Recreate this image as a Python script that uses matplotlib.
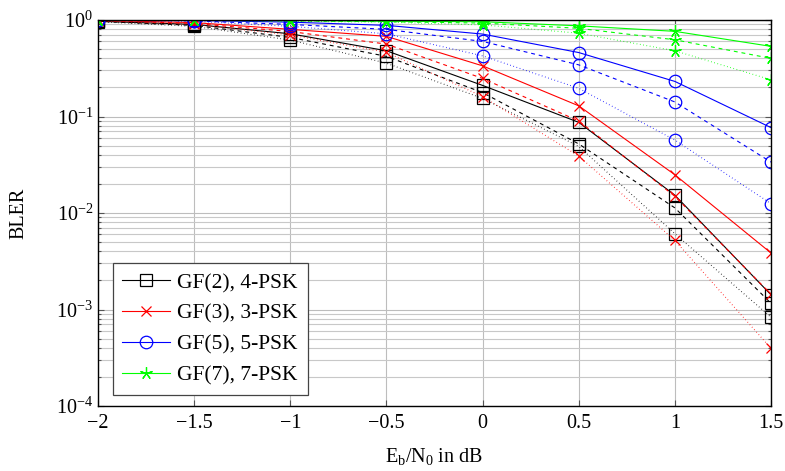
import matplotlib
matplotlib.use("Agg")
import matplotlib.pyplot as plt
import numpy as np
from matplotlib.ticker import LogLocator, NullFormatter

plt.rcParams['font.family'] = ['Liberation Serif', 'DejaVu Serif']
plt.rcParams['mathtext.fontset'] = 'custom'
plt.rcParams['mathtext.rm'] = 'Liberation Serif'
plt.rcParams['mathtext.it'] = 'Liberation Serif:italic'

# Eb/N0 in dB
snr = [-2, -1.5, -1, -0.5, 0, 0.5, 1, 1.5]

# GF(2), 4-PSK
gf2_solid = [0.97, 0.90, 0.72, 0.48, 0.21, 0.087, 0.0153, 0.00142]
gf2_dashed = [0.97, 0.88, 0.66, 0.42, 0.177, 0.052, 0.0113, 0.00116]
gf2_dotted = [0.96, 0.86, 0.62, 0.357, 0.154, 0.049, 0.0061, 0.00083]

# GF(3), 3-PSK
gf3_solid = [0.99, 0.94, 0.80, 0.677, 0.335, 0.129, 0.0249, 0.00385]
gf3_dashed = [0.99, 0.92, 0.76, 0.563, 0.248, 0.0898, 0.0149, 0.00144]
gf3_dotted = [0.98, 0.90, 0.70, 0.462, 0.161, 0.0389, 0.0052, 0.000396]

# GF(5), 5-PSK
gf5_solid = [1.0, 0.99, 0.95, 0.88, 0.715, 0.46, 0.231, 0.0767]
gf5_dashed = [1.0, 0.98, 0.90, 0.80, 0.60, 0.343, 0.1415, 0.0337]
gf5_dotted = [0.99, 0.97, 0.86, 0.72, 0.425, 0.196, 0.057, 0.0125]

# GF(7), 7-PSK
gf7_solid = [1.0, 1.0, 0.99, 0.97, 0.96, 0.87, 0.763, 0.533]
gf7_dashed = [1.0, 0.995, 0.98, 0.96, 0.93, 0.82, 0.624, 0.40]
gf7_dotted = [1.0, 0.99, 0.97, 0.95, 0.89, 0.73, 0.48, 0.24]

labels = ['GF(2), 4-PSK', 'GF(3), 3-PSK', 'GF(5), 5-PSK', 'GF(7), 7-PSK']
colors = ['black', 'red', 'blue', '#00ff00']
markers = ['s', 'x', 'o', (5, 2, 0)]
msizes = [8, 7, 9, 9]
series = [(gf2_solid, gf2_dashed, gf2_dotted),
          (gf3_solid, gf3_dashed, gf3_dotted),
          (gf5_solid, gf5_dashed, gf5_dotted),
          (gf7_solid, gf7_dashed, gf7_dotted)]

fig = plt.figure(figsize=(7.85, 4.71), dpi=100)
ax = fig.add_axes([98/785, 1-406/471, 673/785, 386/471])

styles = [dict(ls='-'), dict(dashes=(3.5, 3.5)), dict(dashes=(0.6, 2.4))]

for k in range(4):
    for j, ys in enumerate(series[k]):
        ax.plot(snr, ys, color=colors[k], lw=0.8, marker=markers[k], ms=msizes[k],
                mfc='none', mec=colors[k], mew=0.9,
                label=labels[k] if j == 0 else None, **styles[j])

ax.set_yscale('log')
ax.set_xlim(-2, 1.5)
ax.set_ylim(1e-4, 1)
ax.set_xticks(np.arange(-2, 1.51, 0.5))
ax.set_xticklabels(['\u22122', '\u22121.5', '\u22121', '\u22120.5', '0', '0.5', '1', '1.5'])
ax.yaxis.set_minor_locator(LogLocator(base=10, subs=np.arange(2, 10)))
ax.yaxis.set_minor_formatter(NullFormatter())

ax.grid(True, which='major', color='#bdbdbd', lw=0.8)
ax.grid(True, which='minor', axis='y', color='#c8c8c8', lw=0.8)
ax.set_axisbelow(True)

ax.tick_params(which='both', direction='in', top=True, right=True, labelsize=14.5, color='#555555')
ax.tick_params(which='major', length=4, width=0.8)
ax.tick_params(which='minor', length=2.5, width=0.8)
ax.tick_params(axis='x', pad=6)
for s in ax.spines.values():
    s.set_linewidth(1.0)

ax.set_xlabel(r'$\mathrm{E_b/N_0}$ in dB', fontsize=14.5, labelpad=9)
ax.set_ylabel('BLER', fontsize=14.5, labelpad=20)

leg = ax.legend(loc='lower left', bbox_to_anchor=(0.022, 0.028), borderaxespad=0,
                fontsize=15.5, fancybox=False, framealpha=1, edgecolor='#444444',
                handlelength=2.2, handletextpad=0.35, labelspacing=0.5, borderpad=0.45)
leg.get_frame().set_linewidth(0.9)

plt.savefig('out.png', dpi=100)
